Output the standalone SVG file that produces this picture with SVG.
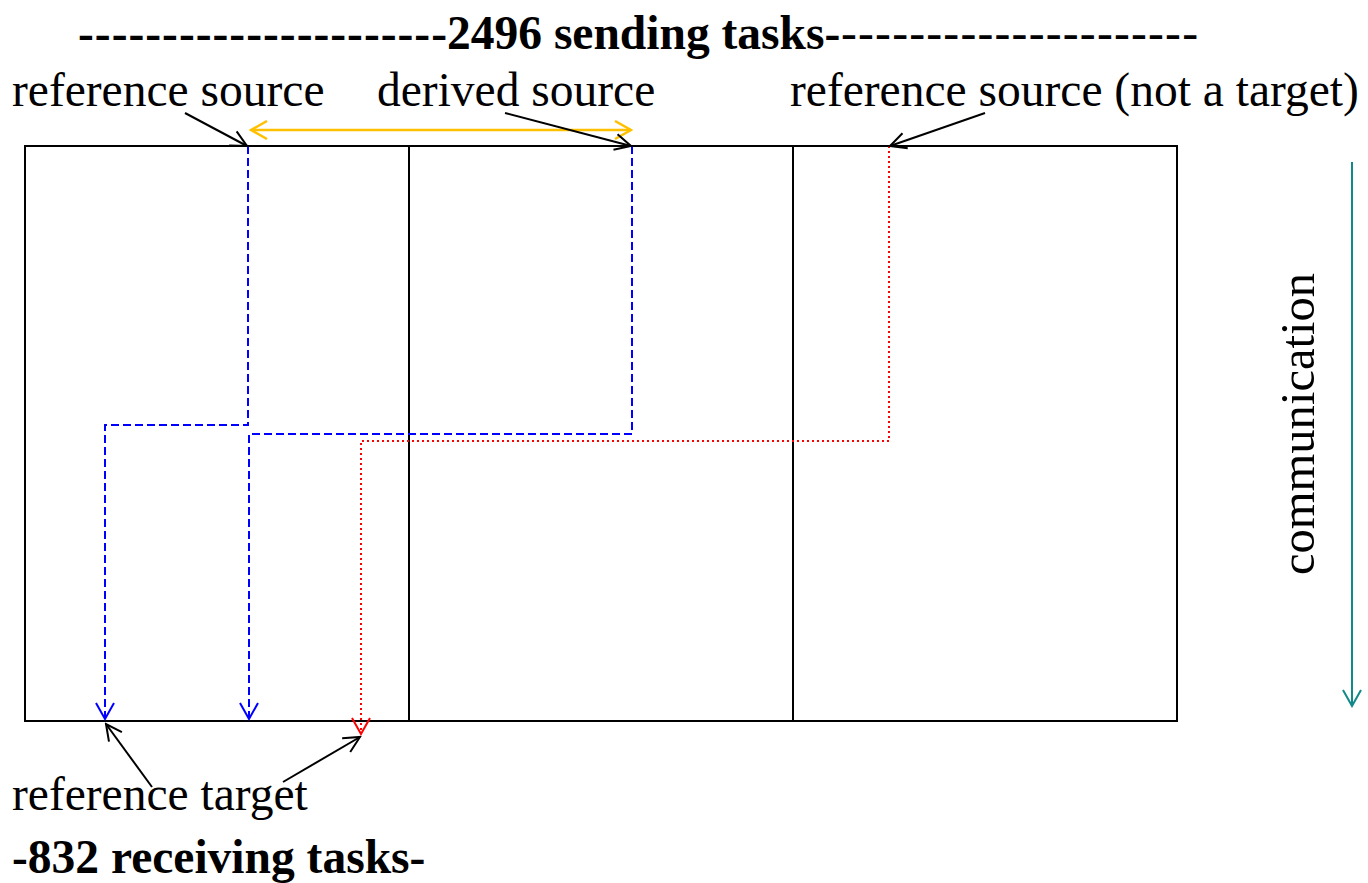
<svg xmlns="http://www.w3.org/2000/svg" width="1368" height="883" viewBox="0 0 1368 883">
  <style>
    .t { font-family: "Liberation Serif", "Times New Roman", serif; font-size: 47.5px; fill: #000; }
    .b { font-weight: bold; }
    .grid { fill: none; stroke: #000; stroke-width: 2; }
    .blue { fill: none; stroke: #0000FF; stroke-width: 2; stroke-dasharray: 8 4; marker-end: url(#arrBlue); }
    .red { fill: none; stroke: #FF0000; stroke-width: 2; stroke-dasharray: 2 3; marker-end: url(#arrRed); }
    .note { fill: none; stroke: #000; stroke-width: 2; marker-end: url(#arrBlack); }
  </style>
  <defs>
    <marker id="arrBlue" viewBox="0 0 20 20" refX="18" refY="10" markerWidth="20" markerHeight="20" markerUnits="userSpaceOnUse" orient="auto">
      <path d="M2,1 L18,10 L2,19" fill="none" stroke="#0000FF" stroke-width="2"/>
    </marker>
    <marker id="arrRed" viewBox="0 0 20 20" refX="18" refY="10" markerWidth="20" markerHeight="20" markerUnits="userSpaceOnUse" orient="auto">
      <path d="M2,1 L18,10 L2,19" fill="none" stroke="#FF0000" stroke-width="2"/>
    </marker>
    <marker id="arrOrange" viewBox="0 0 20 20" refX="18" refY="10" markerWidth="20" markerHeight="20" markerUnits="userSpaceOnUse" orient="auto-start-reverse">
      <path d="M2,1 L18,10 L2,19" fill="none" stroke="#FFC000" stroke-width="2.5"/>
    </marker>
    <marker id="arrBlack" viewBox="0 0 20 20" refX="18" refY="10" markerWidth="20" markerHeight="20" markerUnits="userSpaceOnUse" orient="auto">
      <path d="M2,2 L18,10 L2,18" fill="none" stroke="#000" stroke-width="2"/>
    </marker>
    <marker id="arrTeal" viewBox="0 0 20 20" refX="18" refY="10" markerWidth="20" markerHeight="20" markerUnits="userSpaceOnUse" orient="auto">
      <path d="M2,1 L18,10 L2,19" fill="none" stroke="#11898A" stroke-width="2"/>
    </marker>
  </defs>

  <!-- task grid: three blocks of sending tasks -->
  <g id="grid">
    <rect class="grid" x="25" y="146" width="1152" height="575"/>
    <line class="grid" x1="409" y1="146" x2="409" y2="721"/>
    <line class="grid" x1="793" y1="146" x2="793" y2="721"/>
  </g>

  <!-- communication routes and pointers -->
  <g id="connectors">
    <path class="blue" d="M248,146 V425 H105 V719"/>
    <path class="blue" d="M632,146 V434 H249 V719"/>
    <path class="red" d="M889,146 V441 H361 V734"/>
    <path d="M251,130 H631" fill="none" stroke="#FFC000" stroke-width="2.5" marker-start="url(#arrOrange)" marker-end="url(#arrOrange)"/>
    <path class="note" d="M185,113 L247,146"/>
    <path class="note" d="M505,113 L631,146"/>
    <path class="note" d="M985,113 L890,146"/>
    <path class="note" d="M152,787 L106,724"/>
    <path class="note" d="M283,782 L360,737"/>
    <path d="M1352,162 V706" fill="none" stroke="#11898A" stroke-width="2" marker-end="url(#arrTeal)"/>
  </g>

  <!-- titles -->
  <g id="title-sending">
    <text class="t b" x="78" y="49" textLength="369" lengthAdjust="spacing">----------------------</text>
    <text class="t b" x="447" y="49">2496 sending tasks-</text>
    <text class="t" x="841" y="49" textLength="357" lengthAdjust="spacing">---------------------</text>
  </g>
  <g id="title-receiving">
    <text class="t b" x="12" y="873">-832 receiving tasks-</text>
  </g>

  <!-- labels -->
  <g id="label-reference-source">
    <text class="t" x="12" y="106">reference source</text>
  </g>
  <g id="label-derived-source">
    <text class="t" x="377" y="106">derived source</text>
  </g>
  <g id="label-reference-source-not-target">
    <text class="t" x="790" y="106">reference source (not a target)</text>
  </g>
  <g id="label-reference-target">
    <text class="t" x="12" y="810">reference target</text>
  </g>
  <g id="label-communication">
    <text class="t" x="0" y="0" text-anchor="middle" textLength="302" lengthAdjust="spacingAndGlyphs" transform="translate(1314,424) rotate(-90)">communication</text>
  </g>
</svg>
